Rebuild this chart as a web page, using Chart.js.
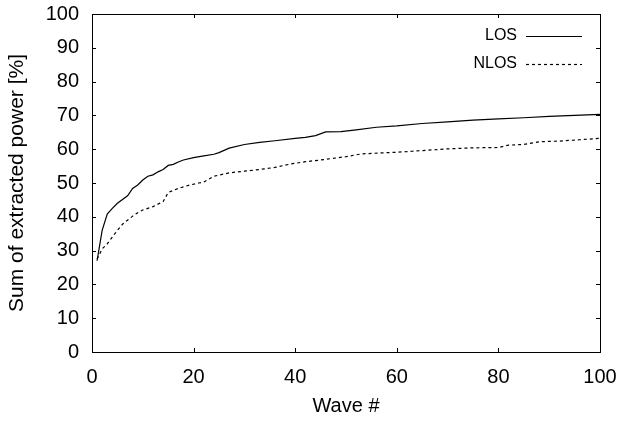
<!DOCTYPE html>
<html><head><meta charset="utf-8">
<script src="https://cdn.jsdelivr.net/npm/chart.js@4/dist/chart.umd.min.js"></script>
<style>html,body{margin:0;padding:0;background:#fff}#wrap{width:618px;height:422px}</style>
</head><body><div id="wrap"><canvas id="c" width="618" height="422"></canvas></div>
<script>
const losWave = [1,2,3,4,5,7,8,9,10,11,12,13,14,15,16,17,18,20,22,24,25,27,30,33,36,40,42,44,46,49,52,56,60,65,70,75,80,85,90,95,100];
const losPower = [27,36,40.8,42.5,44,46.2,48.4,49.4,50.9,52,52.4,53.3,54,55.2,55.5,56.2,56.8,57.5,58,58.5,59,60.3,61.4,62,62.5,63.2,63.5,64,65.1,65.2,65.7,66.5,66.9,67.6,68.1,68.6,69,69.3,69.7,70,70.3];
const nlosWave = [1,2,3,4,5,6,8,9,10,12,14,15,17,19,21,22,24,27,30,33,36,39,42,45,48,50,53,57,60,63,67,70,75,80,82,85,88,92,96,100];
const nlosPower = [27.5,30.5,32,34,36,37.8,40.2,41.2,42,43,44.5,47.2,48.4,49.3,50,50.3,52,53,53.5,54,54.6,55.6,56.3,56.8,57.4,57.8,58.6,58.9,59.1,59.4,59.8,60.1,60.4,60.5,61.2,61.4,62.2,62.4,62.8,63.2];
const xTicks = [0,20,40,60,80,100];
const yTicks = [0,10,20,30,40,50,60,70,80,90,100];
const seriesNames = ['LOS','NLOS'];
const xTitle = 'Wave #';
const yTitle = 'Sum of extracted power [%]';

const FONT = 'Liberation Sans, Arial, sans-serif';

const frame = {
  id: 'frame',
  afterDraw(chart) {
    const {ctx, chartArea: a, scales: {x, y}} = chart;
    ctx.save();
    ctx.strokeStyle = '#000';
    ctx.lineWidth = 1;
    ctx.strokeRect(Math.round(a.left)+0.5, Math.round(a.top)+0.5, Math.round(a.right-a.left), Math.round(a.bottom-a.top));
    const L = 4;
    ctx.beginPath();
    yTicks.forEach(v => {
      const p = Math.round(y.getPixelForValue(v)) + 0.5;
      ctx.moveTo(a.left, p); ctx.lineTo(a.left + L, p);
      ctx.moveTo(a.right, p); ctx.lineTo(a.right - L, p);
    });
    xTicks.forEach(v => {
      const p = Math.round(x.getPixelForValue(v)) + 0.5;
      ctx.moveTo(p, a.bottom); ctx.lineTo(p, a.bottom - L);
      ctx.moveTo(p, a.top); ctx.lineTo(p, a.top + L);
    });
    ctx.stroke();
    // legend
    ctx.font = '16px ' + FONT;
    ctx.textAlign = 'right';
    ctx.textBaseline = 'middle';
    ctx.fillStyle = '#000';
    chart.data.datasets.forEach((ds, i) => {
      const yy = 36 + i * 27.5;
      ctx.fillText(ds.label, 517, yy);
      ctx.beginPath();
      ctx.setLineDash(ds.borderDash || []);
      ctx.lineWidth = ds.borderWidth;
      ctx.moveTo(526, Math.round(yy) + 0.5);
      ctx.lineTo(582, Math.round(yy) + 0.5);
      ctx.stroke();
    });
    ctx.restore();
  }
};

new Chart(document.getElementById('c'), {
  type: 'line',
  data: {
    datasets: [
      { label: seriesNames[0], data: losWave.map((w, i) => ({x: w, y: losPower[i]})), borderColor: '#000', borderWidth: 1.2, pointRadius: 0, tension: 0, fill: false },
      { label: seriesNames[1], data: nlosWave.map((w, i) => ({x: w, y: nlosPower[i]})), borderColor: '#000', borderWidth: 1.2, borderDash: [3, 3], pointRadius: 0, tension: 0, fill: false }
    ]
  },
  options: {
    responsive: false,
    animation: false,
    devicePixelRatio: 1,
    layout: { padding: { top: 14, right: 18, left: 0, bottom: 0 } },
    plugins: { legend: { display: false }, tooltip: { enabled: false } },
    scales: {
      x: {
        type: 'linear', min: 0, max: 100,
        afterBuildTicks: s => { s.ticks = xTicks.map(v => ({value: v})); },
        afterFit: s => { s.height = 70; s.paddingLeft = 0; s.paddingRight = 0; },
        grid: { display: false, drawTicks: false },
        border: { display: false },
        ticks: { color: '#000', font: { family: FONT, size: 20 }, padding: 13, maxRotation: 0 },
        title: { display: true, text: xTitle, color: '#000', font: { family: FONT, size: 20 }, padding: { top: 0, bottom: 4 } }
      },
      y: {
        type: 'linear', min: 0, max: 100,
        afterBuildTicks: s => { s.ticks = yTicks.map(v => ({value: v})); },
        afterFit: s => { s.width = 92; s.paddingTop = 0; s.paddingBottom = 0; },
        grid: { display: false, drawTicks: false },
        border: { display: false },
        ticks: { color: '#000', font: { family: FONT, size: 20 }, padding: 13 },
        title: { display: true, text: yTitle, color: '#000', font: { family: FONT, size: 21 }, padding: { top: 5, bottom: 0 } }
      }
    }
  },
  plugins: [frame]
});
</script></body></html>
